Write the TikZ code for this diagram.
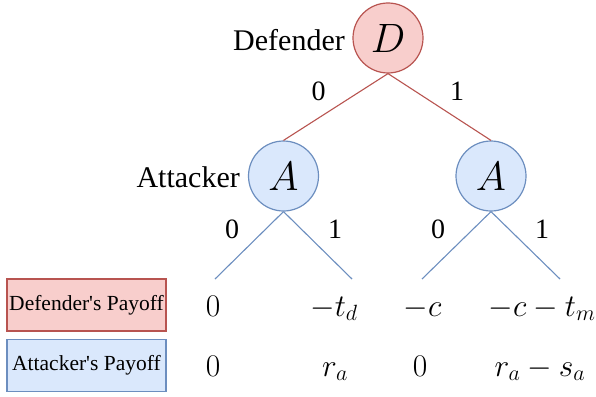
\RequirePackage{fix-cm}
\documentclass[tikz,border=0pt]{standalone}
\usepackage{fontspec}
\setmainfont{Liberation Serif}
\newfontfamily\boxfont{Liberation Serif}
\definecolor{redfill}{HTML}{F8CECC}
\definecolor{redline}{HTML}{B85450}
\definecolor{bluefill}{HTML}{DAE8FC}
\definecolor{blueline}{HTML}{6C8EBF}
\begin{document}
\begin{tikzpicture}[x=1pt,y=-1pt,
  player/.style={circle,minimum size=70pt,inner sep=0pt,line width=1.2pt,font=\fontsize{41}{44}\selectfont},
  defnode/.style={player,draw=redline,fill=redfill},
  attnode/.style={player,draw=blueline,fill=bluefill},
  rededge/.style={draw=redline,line width=1.1pt},
  blueedge/.style={draw=blueline,line width=1.1pt},
  rolelabel/.style={font=\fontsize{30}{32}\selectfont,inner sep=0pt,anchor=east},
  edgelabel/.style={font=\fontsize{28}{30}\selectfont,inner sep=0pt},
  payoffbox/.style={minimum width=159pt,minimum height=52pt,inner sep=0pt,line width=1.2pt,font=\boxfont\fontsize{21.5}{24}\selectfont},
  payoff/.style={font=\fontsize{31.5}{34}\selectfont,inner sep=0pt,anchor=base}
]
\useasboundingbox (0,0) rectangle (596,396);
\node[defnode] (D) at (388,38) {$D$};
\node[attnode] (AL) at (283.5,176) {$A$};
\node[attnode] (AR) at (491,176) {$A$};
\node[rolelabel] (defl) at (345,40) {Defender};
\node[rolelabel] (attl) at (240,177) {Attacker};
\draw[rededge] (D.south) -- (AL.north);
\draw[rededge] (D.south) -- (AR.north);
\node[edgelabel] (e0) at (318.5,91.5) {0};
\node[edgelabel] (e1) at (457,91.5) {1};
\coordinate (l1) at (215,279);
\coordinate (l2) at (352,279);
\coordinate (l3) at (422,279);
\coordinate (l4) at (560,279);
\draw[blueedge] (AL.south) -- (l1);
\draw[blueedge] (AL.south) -- (l2);
\draw[blueedge] (AR.south) -- (l3);
\draw[blueedge] (AR.south) -- (l4);
\node[edgelabel] (a0) at (232,229) {0};
\node[edgelabel] (a1) at (335,229) {1};
\node[edgelabel] (b0) at (438,229) {0};
\node[edgelabel] (b1) at (542,229) {1};
\node[payoffbox,draw=redline,fill=redfill] (dbox) at (86.5,305) {Defender's Payoff};
\node[payoffbox,draw=blueline,fill=bluefill] (abox) at (86.5,365.5) {Attacker's Payoff};
\node[payoff] (d1) at (213,316) {$0$};
\node[payoff] (d2) at (334,316) {$-t_d$};
\node[payoff] (d3) at (422.5,316) {$-c$};
\node[payoff] (d4) at (542,316) {$-c-t_m$};
\node[payoff] (a1p) at (213,376) {$0$};
\node[payoff] (a2p) at (335,376) {$r_a$};
\node[payoff] (a3p) at (420,376) {$0$};
\node[payoff] (a4p) at (540,376) {$r_a-s_a$};
\end{tikzpicture}
\end{document}
